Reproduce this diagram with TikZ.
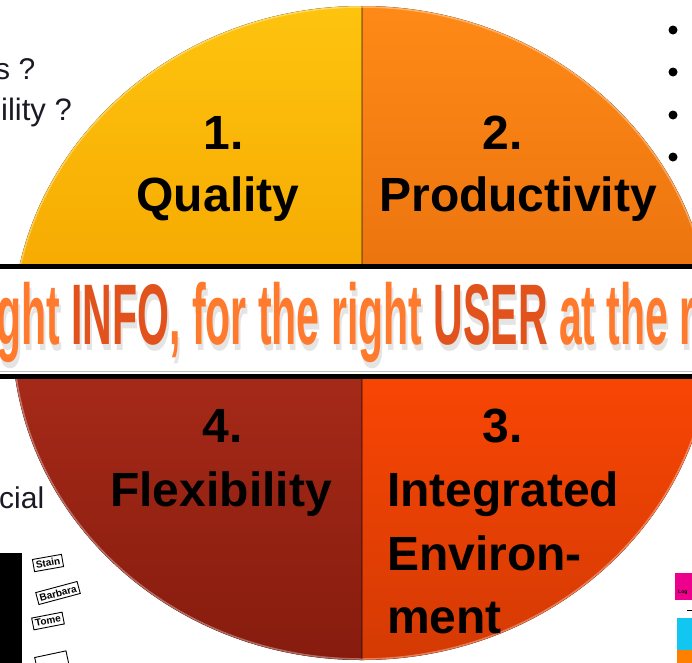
\documentclass[tikz,border=0pt]{standalone}
\usepackage{fontspec}
\setmainfont{Liberation Sans}
\usetikzlibrary{positioning}
\definecolor{qualtop}{HTML}{FEC40E}
\definecolor{qualbot}{HTML}{F5A600}
\definecolor{prodtop}{HTML}{FF8A16}
\definecolor{prodbot}{HTML}{E8700E}
\definecolor{flextop}{HTML}{AC2C1A}
\definecolor{flexbot}{HTML}{861C0E}
\definecolor{integtop}{HTML}{FF4804}
\definecolor{integbot}{HTML}{D43A04}
\definecolor{mottoorg}{HTML}{FF7A2C}
\definecolor{mottored}{HTML}{E2521C}
\definecolor{sideink}{HTML}{1A1A26}
\definecolor{legcyan}{HTML}{12C6F2}
\tikzset
{
    quadlabel/.style = {font=\bfseries\fontsize{48}{48}\selectfont, text=black, inner sep=0pt},
    sidetext/.style  = {font=\fontsize{30}{30}\selectfont, text=sideink, inner sep=0pt, anchor=base west},
    motto/.style     = {font=\bfseries\fontsize{86}{86}\selectfont, inner sep=0pt, anchor=base west},
    bulletdot/.style = {circle, fill=black, inner sep=0pt, minimum size=9pt},
    nametag/.style   = {draw=black, fill=white, font=\bfseries\fontsize{10}{10}\selectfont, inner sep=2.5pt, line width=0.9pt},
    legendbox/.style = {inner sep=0pt, anchor=north west}
}
\newcommand{\mottotext}[2]{\scalebox{0.477}[1]{ght {\color{#2}INFO}, for the right {\color{#2}USER} at the r}}

\begin{document}
\begin{tikzpicture}[x=1pt,y=1pt]
\useasboundingbox (0,0) rectangle (692,-662);
\begin{scope}
\clip (0,0) rectangle (692,-662);

% the disc, four quarters
\begin{scope}
\clip (362,-333) ellipse [x radius=350, y radius=327];
\fill[top color=qualtop, bottom color=qualbot]   (0,0) rectangle (362,-320);
\fill[top color=prodtop, bottom color=prodbot]   (362,0) rectangle (720,-320);
\fill[top color=flextop, bottom color=flexbot]   (0,-320) rectangle (362,-662);
\fill[top color=integtop, bottom color=integbot] (362,-320) rectangle (720,-662);
\draw[black, opacity=0.3, line width=2] (362,0) -- (362,-662);
\end{scope}
\draw[white, opacity=0.35, line width=1.5] (362,-333) ellipse [x radius=349, y radius=326];

% the band
\fill[white] (-5,-267) rectangle (700,-375);
\draw[line width=5] (-5,-266) -- (700,-266);
\draw[line width=5] (-5,-376) -- (700,-376);
\draw[black!25, line width=1] (-5,-371) -- (700,-371);
\node (mottoshadow) [motto, text=black!30, opacity=0.35] at (-2,-350) {\mottotext{black!30}{black!30}};
\node (motto)       [motto, text=mottoorg]               at (-4,-344) {\mottotext{mottoorg}{mottored}};

% quarter labels
\node (q1num) [quadlabel, anchor=base] at (224,-149) {1.};
\node (q1lbl) [quadlabel, anchor=base] at (218,-211) {Quality};
\node (q2num) [quadlabel, anchor=base] at (503,-149) {2.};
\node (q2lbl) [quadlabel, anchor=base] at (518,-211) {Productivity};
\node (q4num) [quadlabel, anchor=base] at (223,-442) {4.};
\node (q4lbl) [quadlabel, anchor=base] at (221,-506) {Flexibility};
\node (q3num) [quadlabel, anchor=base] at (503,-442) {3.};
\node (q3lbla) [quadlabel, anchor=base west] at (387,-506) {Integrated};
\node (q3lblb) [quadlabel, anchor=base west] at (387,-570) {Environ-};
\node (q3lblc) [quadlabel, anchor=base west] at (387,-633) {ment};

% slide text round the disc
\node (lefta) [sidetext] at (-5,-79) {s ?};
\node (leftb) [sidetext, font=\fontsize{31}{31}\selectfont] at (1,-120) {ility ?};
\node (leftc) [sidetext] at (-1,-508) {cial};
\foreach \yy [count=\i] in {30,72,115,157}
    \node (dot\i) [bulletdot] at (673,-\yy) {};

% thumbnail, bottom left
\fill[black] (-2,-553) rectangle (22,-665);
\node (tagstain)   [nametag, rotate=10] at (48,-563) {Stain};
\node (tagbarbara) [nametag, rotate=15] at (58,-593) {Barbara};
\node (tagtome)    [nametag, rotate=11] at (48,-621) {Tome};
\node (tagcut)     [nametag, rotate=12, minimum width=32pt, minimum height=16pt] at (52,-662) {};

% legend, bottom right
\node (leglog)  [legendbox, fill=magenta, minimum width=20pt, minimum height=27pt] at (675,-573) {};
\node (leglogt) [font=\bfseries\fontsize{5}{5}\selectfont, inner sep=0pt, anchor=west] at (678,-592) {Log};
\draw[line width=1] (687,-610) -- (692,-610);
\node (legcyn)  [legendbox, fill=legcyan, minimum width=18pt, minimum height=32pt] at (677,-618) {};
\node (legorg)  [legendbox, fill=orange, minimum width=18pt, minimum height=14pt] at (677,-650) {};
\end{scope}
\end{tikzpicture}
\end{document}
